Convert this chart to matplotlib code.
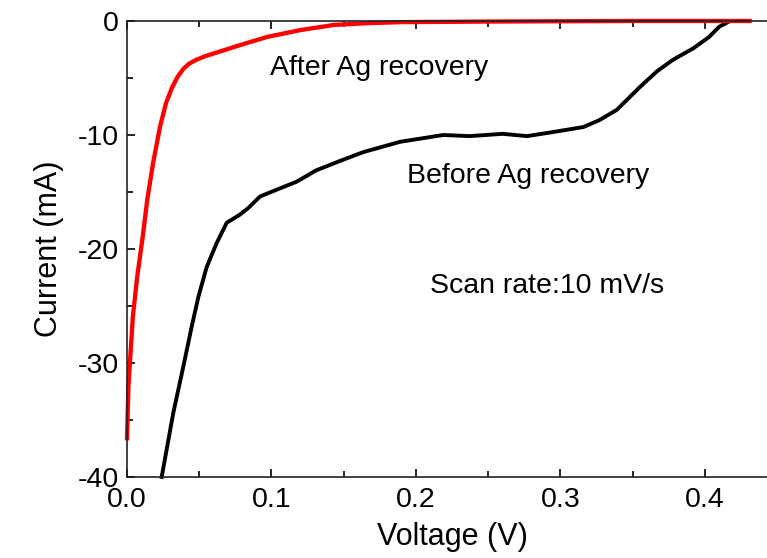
import numpy as np
import matplotlib.pyplot as plt
from matplotlib.ticker import MultipleLocator

plt.rcParams['font.family'] = ['Liberation Sans', 'DejaVu Sans']

# ------------------------------------------------------------
# LSV data (current vs voltage)
# ------------------------------------------------------------
v_before = [0.024, 0.032, 0.039, 0.0448, 0.0494, 0.0551, 0.062, 0.069, 0.078,
            0.084, 0.092, 0.1036, 0.1174, 0.131, 0.147, 0.1636, 0.189, 0.219,
            0.237, 0.260, 0.277, 0.297, 0.316, 0.327, 0.339, 0.355, 0.367,
            0.378, 0.392, 0.403, 0.410, 0.416]
i_before = [-40.0, -34.4, -30.3, -26.8, -24.2, -21.6, -19.5, -17.7, -17.0,
            -16.4, -15.4, -14.8, -14.1, -13.1, -12.3, -11.5, -10.6, -10.0,
            -10.1, -9.9, -10.1, -9.7, -9.3, -8.7, -7.8, -5.8, -4.4,
            -3.4, -2.4, -1.4, -0.5, -0.1]

v_after = [0.0, 0.001, 0.004, 0.007, 0.011, 0.014, 0.018, 0.0228, 0.027,
           0.031, 0.035, 0.039, 0.043, 0.048, 0.055, 0.065, 0.080, 0.097,
           0.12, 0.143, 0.165, 0.19, 0.25, 0.35, 0.431]
i_after = [-36.6, -32.0, -26.0, -22.5, -18.8, -15.7, -12.5, -9.3, -7.2,
           -5.9, -4.9, -4.2, -3.75, -3.4, -3.05, -2.65, -2.05, -1.4,
           -0.8, -0.35, -0.2, -0.1, -0.05, 0.0, 0.0]

# ------------------------------------------------------------
# PLOT
# ------------------------------------------------------------
fig = plt.figure(figsize=(7.67, 5.58), dpi=100)
ax = fig.add_axes([0.1656, 0.1452, 0.8475, 0.8172])

ax.plot(v_before, i_before, color='black', lw=2.8, clip_on=False,
        solid_joinstyle='round')
ax.plot(v_after, i_after, color='red', lw=3.1, clip_on=False,
        solid_joinstyle='round')

ax.text(0.099, -4.74, 'After Ag recovery', fontsize=20.5)
ax.text(0.194, -14.2, 'Before Ag recovery', fontsize=20.5)
ax.text(0.210, -23.9, 'Scan rate:10 mV/s', fontsize=20.5)

ax.set_xlim(0, 0.45)
ax.set_ylim(-40, 0)
ax.xaxis.set_major_locator(MultipleLocator(0.1))
ax.xaxis.set_minor_locator(MultipleLocator(0.05))
ax.yaxis.set_major_locator(MultipleLocator(10))
ax.yaxis.set_minor_locator(MultipleLocator(5))
ax.xaxis.set_major_formatter(lambda v, p: f'{v:.1f}')
ax.yaxis.set_major_formatter(lambda v, p: '0' if v == 0 else f'{v:.0f}')

ax.tick_params(which='both', direction='in', top=True, right=False,
               labelsize=20.5, width=1.2)
ax.tick_params(which='major', length=6)
ax.tick_params(which='minor', length=4)
ax.tick_params(axis='x', pad=7)
ax.tick_params(axis='y', pad=6)
for s in ax.spines.values():
    s.set_linewidth(1.2)
    s.set_color('#222222')

ax.set_xlabel('Voltage (V)', fontsize=22, labelpad=7)
ax.set_ylabel('Current (mA)', fontsize=22, labelpad=10)

fig.savefig('out.png', dpi=100)
